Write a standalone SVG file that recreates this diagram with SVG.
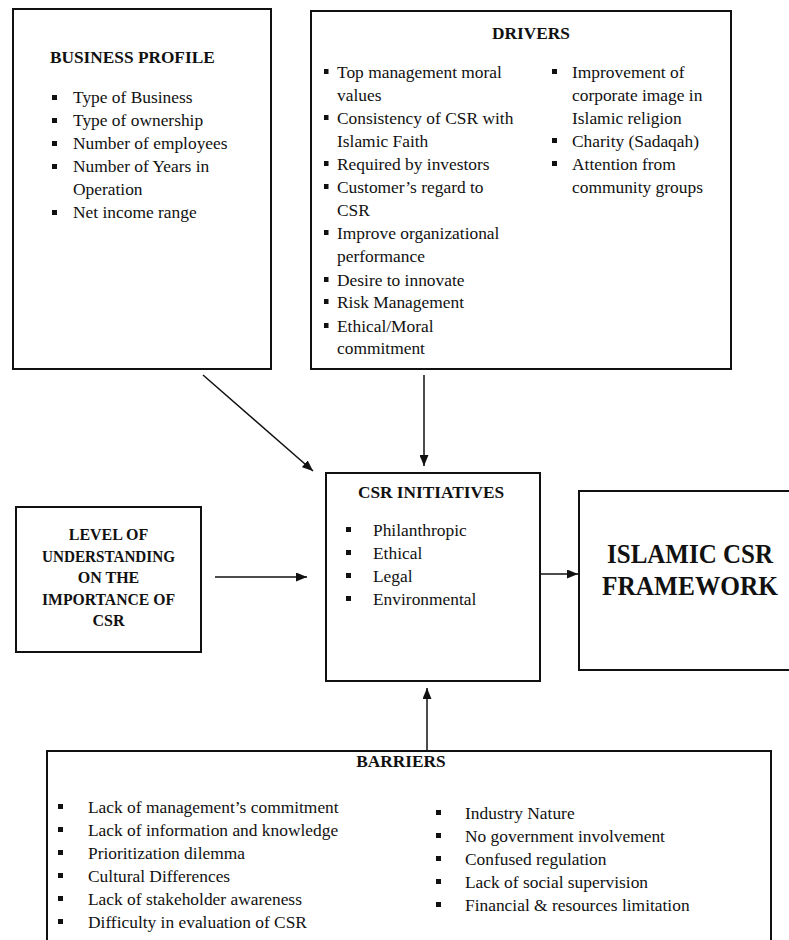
<svg xmlns="http://www.w3.org/2000/svg" width="789" height="940" viewBox="0 0 789 940">
<style>
.box{fill:#fff;stroke:#111;stroke-width:2}
.t{font-family:"Liberation Serif","Times New Roman",serif;font-size:17.4px;fill:#111}
.h{font-family:"Liberation Serif","Times New Roman",serif;font-size:17.3px;font-weight:bold;fill:#111}
.b{fill:#111}
.c{stroke:#111;stroke-width:1.5;fill:none;marker-end:url(#ah)}
</style>
<defs>
<marker id="ah" markerUnits="userSpaceOnUse" markerWidth="11" markerHeight="9" refX="11" refY="4.5" orient="auto">
<path d="M0,0 L11,4.5 L0,9 z" fill="#111"/>
</marker>
</defs>
<rect width="789" height="940" fill="#fff"/>

<g id="business-profile">
<rect class="box" x="13" y="9" width="258" height="360"/>
<text class="h" x="50" y="63">BUSINESS PROFILE</text>
<rect class="b" x="52" y="95" width="5" height="5"/><text class="t" x="73" y="103">Type of Business</text>
<rect class="b" x="52" y="118" width="5" height="5"/><text class="t" x="73" y="126">Type of ownership</text>
<rect class="b" x="52" y="141" width="5" height="5"/><text class="t" x="73" y="149">Number of employees</text>
<rect class="b" x="52" y="164" width="5" height="5"/><text class="t" x="73" y="172">Number of Years in</text>
<text class="t" x="73" y="195">Operation</text>
<rect class="b" x="52" y="210" width="5" height="5"/><text class="t" x="73" y="218">Net income range</text>
</g>

<g id="drivers">
<rect class="box" x="311" y="11" width="420" height="358"/>
<text class="h" x="531" y="39" text-anchor="middle">DRIVERS</text>
<rect class="b" x="324" y="69" width="4.5" height="5"/><text class="t" x="337" y="78">Top management moral</text>
<text class="t" x="337" y="101">values</text>
<rect class="b" x="324" y="115" width="4.5" height="5"/><text class="t" x="337" y="124">Consistency of CSR with</text>
<text class="t" x="337" y="147">Islamic Faith</text>
<rect class="b" x="324" y="161" width="4.5" height="5"/><text class="t" x="337" y="170">Required by investors</text>
<rect class="b" x="324" y="184" width="4.5" height="5"/><text class="t" x="337" y="193">Customer’s regard to</text>
<text class="t" x="337" y="216">CSR</text>
<rect class="b" x="324" y="230" width="4.5" height="5"/><text class="t" x="337" y="239">Improve organizational</text>
<text class="t" x="337" y="262">performance</text>
<rect class="b" x="324" y="277" width="4.5" height="5"/><text class="t" x="337" y="286">Desire to innovate</text>
<rect class="b" x="324" y="299" width="4.5" height="5"/><text class="t" x="337" y="308">Risk Management</text>
<rect class="b" x="324" y="323" width="4.5" height="5"/><text class="t" x="337" y="332">Ethical/Moral</text>
<text class="t" x="337" y="354">commitment</text>
<rect class="b" x="552" y="69" width="5" height="5"/><text class="t" x="572" y="78">Improvement of</text>
<text class="t" x="572" y="101">corporate image in</text>
<text class="t" x="572" y="124">Islamic religion</text>
<rect class="b" x="552" y="138" width="5" height="5"/><text class="t" x="572" y="147">Charity (Sadaqah)</text>
<rect class="b" x="552" y="161" width="5" height="5"/><text class="t" x="572" y="170">Attention from</text>
<text class="t" x="572" y="193">community groups</text>
</g>

<g id="csr-initiatives">
<rect class="box" x="326" y="473" width="214" height="208"/>
<text class="h" x="431" y="498" text-anchor="middle">CSR INITIATIVES</text>
<rect class="b" x="346" y="527" width="5" height="5"/><text class="t" x="373" y="536">Philanthropic</text>
<rect class="b" x="346" y="550" width="5" height="5"/><text class="t" x="373" y="559">Ethical</text>
<rect class="b" x="346" y="573" width="5" height="5"/><text class="t" x="373" y="582">Legal</text>
<rect class="b" x="346" y="596" width="5" height="5"/><text class="t" x="373" y="605">Environmental</text>
</g>

<g id="level-of-understanding">
<rect class="box" x="16" y="507" width="185" height="145"/>
<text class="h" x="108.5" y="540" text-anchor="middle" style="font-size:16px">LEVEL OF</text>
<text class="h" x="108.5" y="561.5" text-anchor="middle" style="font-size:16px" textLength="133" lengthAdjust="spacingAndGlyphs">UNDERSTANDING</text>
<text class="h" x="108.5" y="583" text-anchor="middle" style="font-size:16px">ON THE</text>
<text class="h" x="108.5" y="604.5" text-anchor="middle" style="font-size:16px" textLength="133" lengthAdjust="spacingAndGlyphs">IMPORTANCE OF</text>
<text class="h" x="108.5" y="626" text-anchor="middle" style="font-size:16px">CSR</text>
</g>

<g id="islamic-csr-framework">
<rect class="box" x="579" y="491" width="211" height="179"/>
<text class="h" x="690" y="563" text-anchor="middle" style="font-size:27px" textLength="166" lengthAdjust="spacingAndGlyphs">ISLAMIC CSR</text>
<text class="h" x="690" y="595" text-anchor="middle" style="font-size:27px" textLength="176" lengthAdjust="spacingAndGlyphs">FRAMEWORK</text>
</g>

<g id="barriers">
<rect class="box" x="47" y="751" width="724" height="200"/>
<text class="h" x="401" y="767" text-anchor="middle">BARRIERS</text>
<rect class="b" x="58" y="804" width="5" height="5"/><text class="t" x="88" y="813">Lack of management’s commitment</text>
<rect class="b" x="58" y="827" width="5" height="5"/><text class="t" x="88" y="836">Lack of information and knowledge</text>
<rect class="b" x="58" y="850" width="5" height="5"/><text class="t" x="88" y="859">Prioritization dilemma</text>
<rect class="b" x="58" y="873" width="5" height="5"/><text class="t" x="88" y="882">Cultural Differences</text>
<rect class="b" x="58" y="896" width="5" height="5"/><text class="t" x="88" y="905">Lack of stakeholder awareness</text>
<rect class="b" x="58" y="919" width="5" height="5"/><text class="t" x="88" y="928">Difficulty in evaluation of CSR</text>
<rect class="b" x="436" y="810" width="5" height="5"/><text class="t" x="465" y="819">Industry Nature</text>
<rect class="b" x="436" y="833" width="5" height="5"/><text class="t" x="465" y="842">No government involvement</text>
<rect class="b" x="436" y="856" width="5" height="5"/><text class="t" x="465" y="865">Confused regulation</text>
<rect class="b" x="436" y="879" width="5" height="5"/><text class="t" x="465" y="888">Lack of social supervision</text>
<rect class="b" x="436" y="902" width="5" height="5"/><text class="t" x="465" y="911">Financial &amp; resources limitation</text>
</g>

<g id="connectors">
<line class="c" x1="203" y1="375" x2="313" y2="471"/>
<line class="c" x1="424" y1="375" x2="424" y2="466"/>
<line class="c" x1="215" y1="577" x2="307" y2="577"/>
<line class="c" x1="540" y1="574" x2="578" y2="574"/>
<line class="c" x1="427" y1="750" x2="427" y2="688"/>
</g>
</svg>
